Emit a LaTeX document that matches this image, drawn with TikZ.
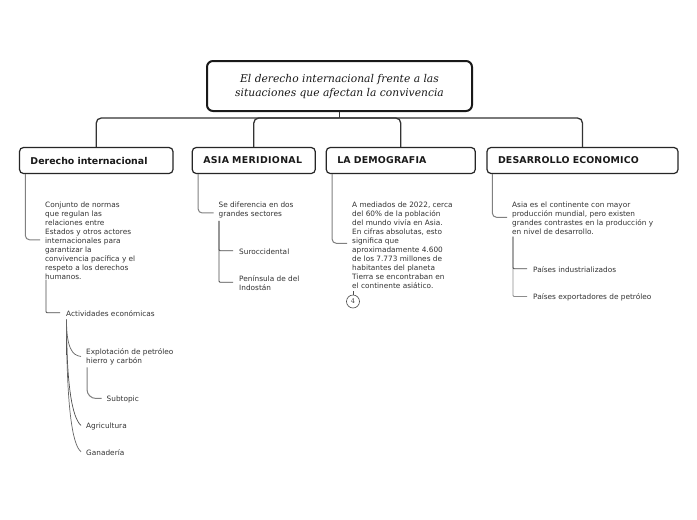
\documentclass[tikz,border=0pt]{standalone}
\usepackage{fontspec}
\setmainfont{DejaVu Sans}
\newfontfamily\titlefont{DejaVu Serif}
\newcommand{\st}{\rule{0pt}{7pt}}
\tikzset{
  rootbox/.style={draw=black!90,line width=2pt,rounded corners=6pt,fill=white,inner sep=0pt,minimum width=265pt,minimum height=50pt,align=center,font=\titlefont\itshape\fontsize{10.7}{14}\selectfont,text=black!90},
  topic/.style={draw=black!85,line width=1.2pt,rounded corners=4pt,fill=white,inner ysep=0pt,inner xsep=11pt,minimum height=26pt,align=left,font=\bfseries\fontsize{9.4}{10}\selectfont,text=black!90},
  note/.style={anchor=north west,inner sep=0pt,align=left,font=\fontsize{7.35}{9}\selectfont,text=black!80},
  trunk/.style={draw=black!80,line width=1.3pt,rounded corners=5pt},
  link/.style={draw=black!50,line width=1pt,rounded corners=4pt},
  linkdark/.style={draw=black!70,line width=.8pt,rounded corners=1pt},
  curvelink/.style={draw=black!60,line width=.7pt},
  marker/.style={circle,draw=black!70,line width=.6pt,fill=white,minimum size=13pt,inner sep=0pt,font=\titlefont\fontsize{6.5}{7}\selectfont,text=black!75}
}
\begin{document}
\begin{tikzpicture}[x=1pt,y=-1pt]
\useasboundingbox[fill=white] (0,0) rectangle (697,520);
\node[rootbox] (root) at (339.5,86) {\rule{0pt}{9pt}El derecho internacional frente a las\\situaciones que afectan la convivencia};
\node[topic,text width=131.5pt] (b1) at (96.25,160.5) {Derecho internacional};
\node[topic,text width=101pt] (b2) at (253.75,160.5) {\addfontfeatures{LetterSpace=3.5}ASIA MERIDIONAL};
\node[topic,text width=127pt] (b3) at (400.75,160.5) {\addfontfeatures{LetterSpace=2}LA DEMOGRAFIA};
\node[topic,text width=169pt] (b4) at (582.5,160.5) {\addfontfeatures{LetterSpace=1.5}DESARROLLO ECONOMICO};
\coordinate (j) at (root.south |- 0,118);
\draw[trunk] (root.south) -- (j);
\draw[trunk] (j) -| (b1.north);
\draw[trunk] (j) -| (b2.north);
\draw[trunk] (j) -| (b3.north);
\draw[trunk] (j) -| (b4.north);

\node[note] (t1) at (45,200) {\st Conjunto de normas\\que regulan las\\relaciones entre\\Estados y otros actores\\internacionales para\\garantizar la\\convivencia pacífica y el\\respeto a los derechos\\humanos.};
\node[note] (act) at (66,309) {\st Actividades económicas};
\node[note] (ex) at (86,347.5) {\st Explotación de petróleo\\hierro y carbón};
\node[note] (sub) at (106.5,394) {\st Subtopic};
\node[note] (agr) at (86,421) {\st Agricultura};
\node[note] (gan) at (86,448) {\st Ganadería};
\draw[link] ([xshift=6.5pt]b1.south west) |- ([xshift=-5pt]t1.west);
\draw[linkdark] ([xshift=1pt]t1.south west) |- ([xshift=-6pt]act.west);
\coordinate (s) at ([xshift=.5pt,yshift=-3pt]act.south west);
\draw[linkdark,line width=1.1pt,draw=black!85,rounded corners=0pt] (s) -- ++(0,35);
\draw[curvelink] (s) .. controls +(0,28) and +(-9,-1) .. ([xshift=-5pt]ex.west);
\draw[curvelink,draw=black!70] (s) .. controls +(0,65) and +(-9,-8) .. ([xshift=-5pt]agr.west);
\draw[curvelink] (s) .. controls +(0,85) and +(-9,-7) .. ([xshift=-5pt]gan.west);
\draw[link,rounded corners=9pt] ([xshift=1pt,yshift=-2pt]ex.south west) |- ([xshift=-5pt]sub.west);

\node[note] (t2) at (218.5,200) {\st Se diferencia en dos\\grandes sectores};
\node[note] (s1) at (239,247) {\st Suroccidental};
\node[note] (s2) at (239,274) {\st Península de del\\Indostán};
\draw[link] ([xshift=6.5pt]b2.south west) |- ([xshift=-5pt,yshift=-4pt]t2.west);
\draw[linkdark] ([xshift=.5pt,yshift=-3pt]t2.south west) |- ([xshift=-6pt]s1.west);
\draw[linkdark] ([xshift=.5pt,yshift=-3pt]t2.south west) |- ([xshift=-6pt]s2.west);

\node[note] (t3) at (352,200) {\st A mediados de 2022, cerca\\del 60\% de la población\\del mundo vivía en Asia.\\En cifras absolutas, esto\\significa que\\aproximadamente 4.600\\de los 7.773 millones de\\habitantes del planeta\\Tierra se encontraban en\\el continente asiático.};
\node[marker] (m) at (353,301.5) {4};
\draw[link] ([xshift=6.5pt]b3.south west) |- ([xshift=-5pt,yshift=1pt]t3.west);
\draw[linkdark] (m.north) -- ([xshift=1pt,yshift=-2pt]t3.south west);

\node[note] (t4) at (512,200) {\st Asia es el continente con mayor\\producción mundial, pero existen\\grandes contrastes en la producción y\\en nivel de desarrollo.};
\node[note] (p1) at (533,265) {\st Países industrializados};
\node[note] (p2) at (533,292) {\st Países exportadores de petróleo};
\draw[link] ([xshift=6pt]b4.south west) |- ([xshift=-5pt]t4.west);
\draw[linkdark,draw=black!45] ([xshift=1pt,yshift=-2pt]t4.south west) |- ([xshift=-6pt]p2.west);
\draw[linkdark] ([xshift=1pt,yshift=-2pt]t4.south west) |- ([xshift=-6pt]p1.west);
\end{tikzpicture}
\end{document}
